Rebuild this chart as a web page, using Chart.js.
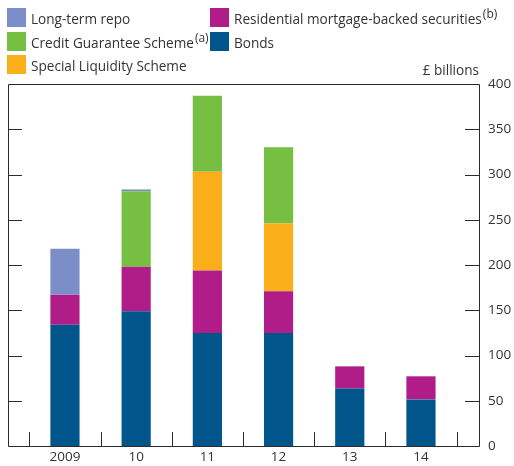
<!DOCTYPE html>
<html>
<head>
<meta charset="utf-8">
<script src="https://cdn.jsdelivr.net/npm/chart.js@4"></script>
<style>
  body { margin: 0; background: #fff; font-family: "Open Sans", sans-serif; color: #333; }
  #wrap { position: relative; width: 514px; height: 466px; }
  #chart { position: absolute; left: 0; top: 0; }
  .item { position: absolute; font-size: 13.6px; line-height: 19px; white-space: nowrap; }
  .item span.box { position: absolute; left: 0; top: 0; width: 19px; height: 19px; }
  .item span.txt { position: absolute; left: 24px; top: 1px; }
  .item sup { font-size: 12px; line-height: 0; vertical-align: 6px; margin-left: 1px; }
  #unit { position: absolute; right: 35px; top: 60px; font-size: 13.6px; }
</style>
</head>
<body>
<div id="wrap">
  <canvas id="chart" width="514" height="466"></canvas>
  <div id="legend"></div>
  <div id="unit">£ billions</div>
</div>
<script>
const years = ['2009', '10', '11', '12', '13', '14'];
const bonds = [134, 149, 125, 125, 63.5, 51.5];
const rmbs = [33, 49, 69, 46, 24.5, 25.5];
const sls = [null, null, 109, 75, null, null];
const cgs = [null, 83.5, 84, 84, null, null];
const ltr = [51, 2, null, null, null, null];

// stacking order bottom -> top
const series = [
  { label: 'Bonds', sup: '', data: bonds, color: '#00558B', pos: [210, 32] },
  { label: 'Residential mortgage-backed securities', sup: '(b)', data: rmbs, color: '#B11D88', pos: [210, 8] },
  { label: 'Special Liquidity Scheme', sup: '', data: sls, color: '#F9AE1A', pos: [7, 55] },
  { label: 'Credit Guarantee Scheme', sup: '(a)', data: cgs, color: '#77BF43', pos: [7, 32] },
  { label: 'Long-term repo', sup: '', data: ltr, color: '#7B8EC8', pos: [7, 8] }
];

// html legend
const legend = document.getElementById('legend');
series.forEach(s => {
  const d = document.createElement('div');
  d.className = 'item';
  d.style.left = s.pos[0] + 'px';
  d.style.top = s.pos[1] + 'px';
  d.innerHTML = '<span class="box" style="background:' + s.color + '"></span><span class="txt">' +
    s.label + (s.sup ? '<sup>' + s.sup + '</sup>' : '') + '</span>';
  legend.appendChild(d);
});

// frame and inward tick marks
const frameTicks = {
  id: 'frameTicks',
  afterDraw(chart) {
    const { ctx, chartArea: a, scales } = chart;
    ctx.save();
    ctx.strokeStyle = '#2b2b2b';
    ctx.lineWidth = 1;
    ctx.beginPath();
    ctx.rect(Math.round(a.left) + 0.5, Math.round(a.top) + 0.5,
      Math.round(a.right - a.left), Math.round(a.bottom - a.top));
    for (let v = 50; v < 400; v += 50) {
      const y = Math.round(scales.y.getPixelForValue(v)) + 0.5;
      ctx.moveTo(a.left, y); ctx.lineTo(a.left + 14, y);
      ctx.moveTo(a.right - 14, y); ctx.lineTo(a.right, y);
    }
    for (let i = 0; i <= years.length; i++) {
      const x = Math.round(scales.x.getPixelForValue(i - 0.5)) + 0.5;
      ctx.moveTo(x, a.bottom); ctx.lineTo(x, a.bottom - 14);
    }
    ctx.stroke();
    ctx.restore();
  }
};

const ctx = document.getElementById('chart').getContext('2d');
new Chart(ctx, {
  type: 'bar',
  data: {
    datasets: series.map(s => ({
      label: s.label,
      data: s.data.map((v, i) => ({ x: i, y: v })),
      backgroundColor: s.color,
      borderWidth: 0,
      barPercentage: 0.41,
      categoryPercentage: 1
    }))
  },
  options: {
    responsive: false,
    animation: false,
    layout: { padding: { left: 8, top: 84, right: 0, bottom: 0 } },
    plugins: { legend: { display: false }, tooltip: { enabled: false } },
    scales: {
      x: {
        type: 'linear',
        stacked: true,
        offset: false,
        min: -0.8,
        max: 5.815,
        afterBuildTicks: s => { s.ticks = years.map((y, i) => ({ value: i })); },
        afterFit: s => { s.height = 20; },
        grid: { display: false, drawTicks: false },
        border: { display: false },
        ticks: {
          padding: 3,
          color: '#333',
          maxRotation: 0,
          font: { family: 'Open Sans', size: 13.5 },
          callback: v => years[v]
        }
      },
      y: {
        position: 'right',
        stacked: true,
        min: 0,
        max: 400,
        afterFit: s => { s.width = 35; },
        grid: { display: false, drawTicks: false },
        border: { display: false },
        ticks: {
          stepSize: 50,
          padding: 9,
          color: '#333',
          font: { family: 'Open Sans', size: 13.5 }
        }
      }
    }
  },
  plugins: [frameTicks]
});
</script>
</body>
</html>
